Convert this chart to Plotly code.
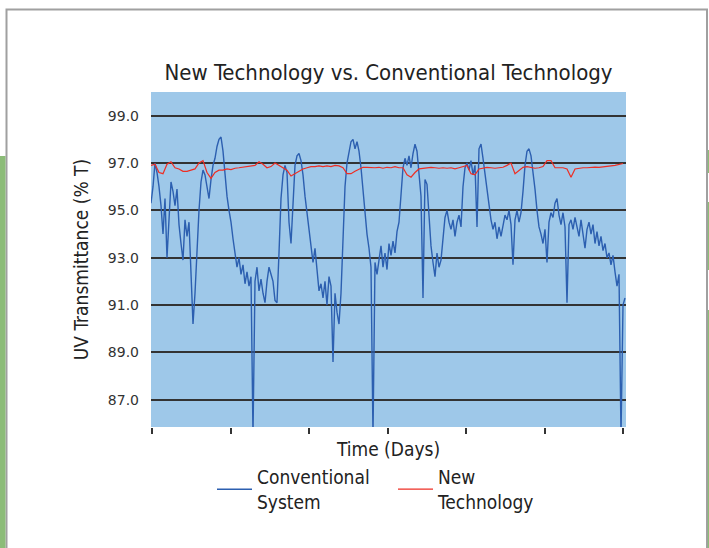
import plotly.graph_objects as go

# ---------------- data ----------------
# Conventional system UV transmittance (% T), sampled evenly along the time axis
conventional = [
    95.3, 96.0, 97.0, 96.6, 96.0, 95.2, 94.0, 95.5, 93.0, 94.8,
    96.2, 95.8, 95.2, 95.9, 94.4, 93.6, 92.9, 94.6, 93.9, 94.5,
    92.5, 90.2, 91.5, 93.5, 95.0, 96.2, 96.7, 96.5, 95.9, 95.5,
    96.3, 96.9, 97.2, 97.7, 98.0, 98.1, 97.5, 96.4, 95.6, 95.0,
    94.5, 93.8, 93.1, 92.6, 93.0, 92.3, 92.7, 91.9, 92.4, 91.8,
    92.2, 85.5, 92.0, 92.6, 91.6, 92.1, 91.5, 91.1, 92.0, 92.6,
    92.3, 92.0, 91.2, 91.1, 93.2, 95.5, 96.5, 96.9, 96.6, 94.5,
    93.6, 95.5, 96.9, 97.3, 97.4, 97.1, 96.5, 95.6, 94.8, 94.0,
    93.5, 92.8, 93.4, 92.5, 91.6, 91.9, 91.3, 92.0, 91.0, 92.2,
    91.8, 88.6, 91.5, 90.7, 90.2, 91.5, 93.5, 96.0, 97.0, 97.5,
    97.9, 98.0, 97.6, 97.9, 97.5, 96.8, 95.8, 94.9, 94.0, 93.4,
    92.6, 85.5, 92.8, 92.3, 92.9, 93.5, 92.6, 93.2, 92.5, 93.6,
    93.1, 93.7, 93.2, 94.1, 94.5, 95.5, 96.8, 97.2, 96.9, 97.3,
    96.8, 97.4, 97.8, 97.5, 96.6, 95.6, 91.3, 96.3, 96.1, 94.8,
    93.5, 92.8, 92.2, 93.2, 92.6, 92.9, 93.8, 94.7, 95.0, 94.5,
    94.2, 94.6, 93.9, 94.5, 94.8, 94.3, 96.0, 96.8, 97.0, 96.7,
    97.1, 96.5, 96.9, 94.3, 97.6, 97.8, 97.2, 96.5, 95.8, 95.2,
    94.6, 94.2, 94.5, 93.8, 94.3, 93.9, 94.4, 94.8, 94.6, 95.0,
    94.4, 92.7, 94.6, 95.0, 94.5, 94.9, 95.8, 96.9, 97.5, 97.6,
    97.3, 96.7, 95.9, 95.0, 94.3, 94.0, 93.6, 94.2, 92.8, 94.5,
    94.9, 94.7, 95.3, 95.5, 94.8, 94.4, 94.9, 94.3, 91.1, 94.4,
    94.6, 94.2, 94.7, 94.3, 93.9, 94.6, 94.0, 93.4, 94.2, 94.5,
    94.0, 94.4, 93.6, 94.1, 93.5, 93.9, 93.3, 93.6, 93.0, 93.2,
    92.7, 93.1, 92.4, 91.8, 92.3, 85.5, 91.0, 91.3,
]

# New technology UV transmittance (% T), sampled every second conventional sample
new_technology = [
    96.90, 96.95, 96.60, 96.55, 96.95, 97.05, 96.80, 96.75, 96.65, 96.65,
    96.70, 96.75, 97.00, 97.10, 96.60, 96.35, 96.60, 96.70, 96.70, 96.75,
    96.72, 96.78, 96.80, 96.82, 96.85, 96.88, 96.90, 97.05, 96.95, 96.80,
    96.85, 97.00, 96.90, 96.80, 96.70, 96.45, 96.55, 96.65, 96.75, 96.80,
    96.85, 96.85, 96.88, 96.85, 96.88, 96.85, 96.90, 96.88, 96.80, 96.55,
    96.55, 96.65, 96.75, 96.82, 96.82, 96.80, 96.80, 96.82, 96.78, 96.82,
    96.80, 96.85, 96.80, 96.80, 96.50, 96.40, 96.60, 96.75, 96.78, 96.80,
    96.82, 96.80, 96.78, 96.80, 96.78, 96.80, 96.75, 96.80, 96.85, 96.90,
    96.55, 96.50, 96.75, 96.80, 96.82, 96.80, 96.78, 96.80, 96.82, 96.90,
    97.00, 96.55, 96.70, 96.82, 96.85, 96.80, 96.78, 96.80, 96.85, 97.10,
    97.10, 96.80, 96.80, 96.80, 96.75, 96.40, 96.75, 96.78, 96.80, 96.80,
    96.82, 96.83, 96.82, 96.85, 96.85, 96.88, 96.90, 96.95, 96.98,
]

y_tick_values = [87, 89, 91, 93, 95, 97, 99]
y_tick_labels = ["87.0", "89.0", "91.0", "93.0", "95.0", "97.0", "99.0"]

series_names = ["Conventional<br>System", "New<br>Technology"]

# sample positions (time index)
t_conv = list(range(len(conventional)))
t_new = [2 * i for i in range(len(new_technology))]

# ---------------- layout constants ----------------
W, H = 709, 548
L, R, T, B = 151, 83, 92, 121
PW, PH = W - L - R, H - T - B

def fx(px):
    return (px - L) / PW

def fy(py):
    return (H - B - py) / PH

COND = "Liberation Sans Narrow, DejaVu Sans Condensed, Arial Narrow, sans-serif"
TICKF = "DejaVu Sans, Verdana, sans-serif"

fig = go.Figure()
fig.add_trace(go.Scatter(
    x=t_conv, y=conventional, mode="lines", name=series_names[0],
    line=dict(color="#2C5FB0", width=1.4),
))
fig.add_trace(go.Scatter(
    x=t_new, y=new_technology, mode="lines", name=series_names[1],
    line=dict(color="#EE2E24", width=1.2),
))

shapes = [
    # outer grey frame of the white panel
    dict(type="rect", xref="paper", yref="paper",
         x0=fx(6.5), x1=fx(707), y0=fy(560), y1=fy(9.5),
         line=dict(color="#A0A0A0", width=2), fillcolor="rgba(0,0,0,0)", layer="below"),
    # green strips at the page edges
    dict(type="rect", xref="paper", yref="paper",
         x0=fx(-2), x1=fx(5.5), y0=fy(560), y1=fy(156),
         line=dict(width=0), fillcolor="#8CBC78", layer="below"),
    dict(type="rect", xref="paper", yref="paper",
         x0=fx(707.8), x1=fx(712), y0=fy(173), y1=fy(150),
         line=dict(width=0), fillcolor="#8CBC78", layer="below"),
    dict(type="rect", xref="paper", yref="paper",
         x0=fx(707.8), x1=fx(712), y0=fy(270), y1=fy(202),
         line=dict(width=0), fillcolor="#8CBC78", layer="below"),
    dict(type="rect", xref="paper", yref="paper",
         x0=fx(707.8), x1=fx(712), y0=fy(560), y1=fy(310),
         line=dict(width=0), fillcolor="#8CBC78", layer="below"),
]

fig.update_layout(
    width=W, height=H,
    margin=dict(l=L, r=R, t=T, b=B, pad=0),
    paper_bgcolor="white",
    plot_bgcolor="#9EC8E9",
    showlegend=True,
    shapes=shapes,
    title=dict(
        text="New Technology vs. Conventional Technology",
        xref="container", x=388.5 / W, xanchor="center",
        yref="container", y=1 - 72 / H, yanchor="middle",
        font=dict(family=COND, size=22, color="#222222"),
    ),
    legend=dict(
        orientation="h", x=fx(212), xanchor="left", y=fy(458), yanchor="top",
        font=dict(family=COND, size=19, color="#222222"),
        bgcolor="rgba(0,0,0,0)", entrywidth=131, entrywidthmode="pixels",
        tracegroupgap=0, itemwidth=35,
    ),
    xaxis=dict(
        range=[0, len(conventional) - 0.5],
        showgrid=False, zeroline=False, showline=False,
        ticks="outside", ticklen=6, tickwidth=1.5, tickcolor="#333333",
        tick0=0.5, dtick=39.25, showticklabels=False,
        title=dict(text="Time (Days)", standoff=9,
                   font=dict(family=COND, size=19, color="#222222")),
    ),
    yaxis=dict(
        range=[85.85, 100.0],
        tickvals=y_tick_values, ticktext=y_tick_labels,
        showgrid=True, gridcolor="#333333", gridwidth=2,
        zeroline=False, showline=False, ticks="",
        ticklabelstandoff=11,
        tickfont=dict(family=TICKF, size=14, color="#333333"),
        title=dict(text="UV Transmittance (% T)", standoff=14,
                   font=dict(family=COND, size=19, color="#222222")),
    ),
)

fig.write_html("out.html", config={"displayModeBar": False},
               post_script="document.body.style.margin='0px';")
